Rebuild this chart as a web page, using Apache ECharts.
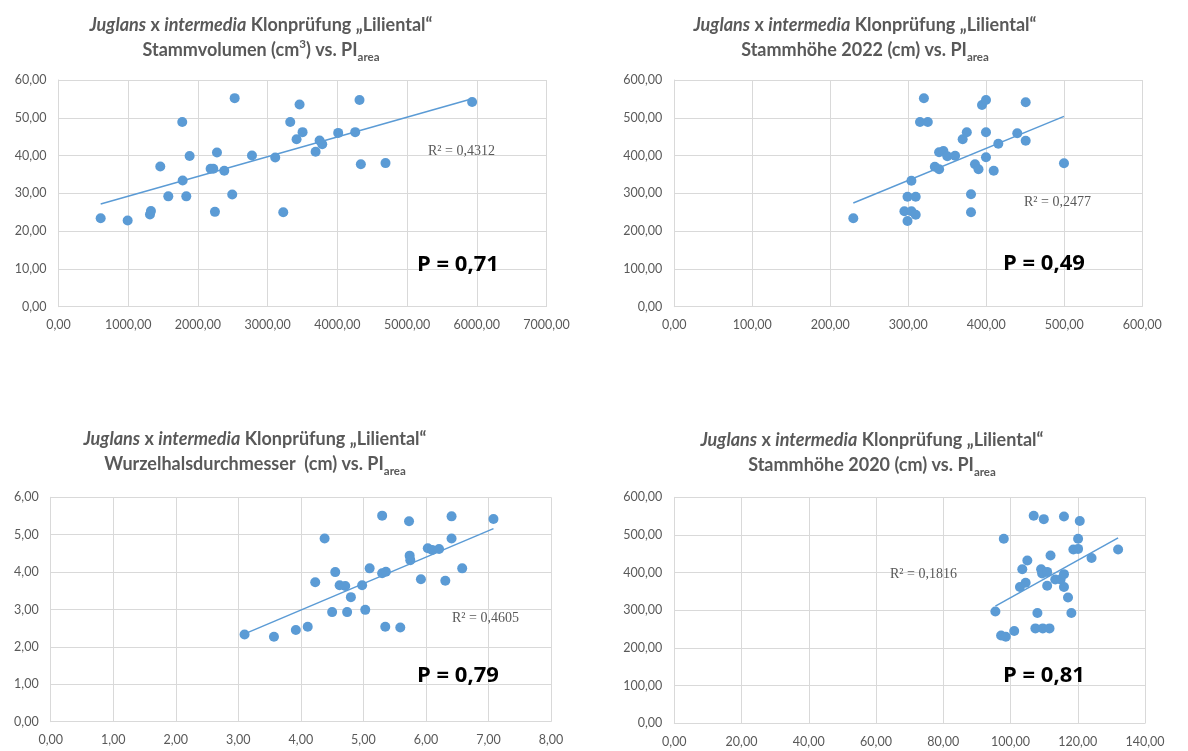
<!DOCTYPE html>
<html>
<head>
<meta charset="utf-8">
<script src="https://cdn.jsdelivr.net/npm/echarts@6/dist/echarts.min.js"></script>
<style>
  html, body { margin: 0; padding: 0; background: #fff; }
  #ec { width: 1188px; height: 751px; }
</style>
</head>
<body>
<div id="ec"></div>
<script>
// Stammvolumen (cm3) vs. PI area
var volX = [605, 992, 1312, 1326, 1460, 1575, 1775, 1781, 1833, 1881, 2182, 2220, 2244, 2273, 2378, 2492, 2527, 2775, 3109, 3224, 3324, 3415, 3458, 3501, 3688, 3745, 3783, 4012, 4256, 4318, 4337, 4691, 5933]
var volPI = [23.4, 22.8, 24.4, 25.3, 37.1, 29.2, 48.9, 33.4, 29.2, 39.9, 36.5, 36.5, 25.1, 40.8, 36.0, 29.7, 55.2, 40.0, 39.5, 25.0, 48.9, 44.3, 53.5, 46.2, 41.0, 44.0, 43.0, 46.0, 46.2, 54.7, 37.7, 38.0, 54.2]

// Stammhoehe 2022 (cm) vs. PI area
var h22X = [229.5, 295, 299, 299, 304, 304, 309.5, 309.5, 315, 320, 325, 334, 339.5, 339.5, 345, 350, 360, 369.7, 375, 380.4, 380.4, 385.5, 390, 394.5, 399.6, 399.6, 399.6, 409.5, 415.4, 439.7, 450.5, 450.5, 499.6]
var h22PI = [234, 252.5, 291, 227, 333.5, 252.5, 291, 243.5, 489, 551.6, 489, 370.6, 363.7, 408.7, 412, 398, 399.7, 443, 461.6, 297.5, 250, 377, 363.7, 534, 547, 395.4, 461.6, 360, 431.4, 459, 541, 439.4, 379.5]

// Wurzelhalsdurchmesser (cm) vs. PI area
var wurzX = [3.10, 3.57, 3.92, 4.11, 4.23, 4.38, 4.50, 4.55, 4.62, 4.71, 4.74, 4.80, 4.98, 5.03, 5.10, 5.30, 5.30, 5.36, 5.35, 5.59, 5.73, 5.74, 5.75, 5.92, 6.03, 6.10, 6.21, 6.31, 6.41, 6.41, 6.58, 7.08]
var wurzPI = [2.33, 2.27, 2.45, 2.54, 3.73, 4.90, 2.93, 4.00, 3.65, 3.63, 2.93, 3.33, 3.65, 2.99, 4.10, 5.51, 3.97, 4.01, 2.54, 2.52, 5.36, 4.44, 4.32, 3.81, 4.64, 4.59, 4.62, 3.77, 4.90, 5.49, 4.10, 5.42]

// Stammhoehe 2020 (cm) vs. PI area
var h20X = [95.5, 97.2, 98.6, 98.0, 101.1, 102.8, 103.5, 104.5, 105.0, 106.9, 107.4, 108.0, 109.1, 109.4, 109.9, 109.6, 110.9, 110.9, 111.6, 111.9, 113.3, 114.9, 115.9, 115.9, 115.9, 117.1, 118.1, 118.7, 120.1, 120.1, 120.6, 124.1, 132.0]
var h20PI = [297, 233, 230, 490, 245, 362, 409, 373, 432, 551, 252, 292.6, 409, 398, 542, 252, 402, 365, 252, 445.6, 382, 382, 549, 396, 362, 334, 292.6, 461.5, 463, 490, 537, 439, 461.5]

var rSquared = ['R² = 0,4312', 'R² = 0,2477', 'R² = 0,4605', 'R² = 0,1816']
var pValues = ['P = 0,71', 'P = 0,49', 'P = 0,79', 'P = 0,81']

var blue = '#5B9BD5'
var grey = '#595959'
var gridGrey = '#d9d9d9'

function pairs(xs, ys) {
  return xs.map(function (x, i) { return [x, ys[i]] })
}

// linear trend like Excel
function trend(xs, ys) {
  var n = xs.length, sx = 0, sy = 0, sxx = 0, sxy = 0
  for (var i = 0; i < n; i++) {
    sx += xs[i]; sy += ys[i]; sxx += xs[i] * xs[i]; sxy += xs[i] * ys[i]
  }
  var b = (n * sxy - sx * sy) / (n * sxx - sx * sx)
  var a = (sy - b * sx) / n
  var x0 = Math.min.apply(null, xs), x1 = Math.max.apply(null, xs)
  return [[x0, a + b * x0], [x1, a + b * x1]]
}

function fmt(v) {
  return v.toFixed(2).replace('.', ',')
}

function axis(idx, min, max, interval) {
  return {
    type: 'value',
    gridIndex: idx,
    min: min,
    max: max,
    interval: interval,
    axisLine: { show: true, lineStyle: { color: gridGrey, width: 1 } },
    axisTick: { show: false },
    splitLine: { show: true, lineStyle: { color: gridGrey, width: 1 } },
    axisLabel: {
      color: grey,
      fontFamily: 'Lato',
      fontSize: 12.5,
      margin: 12,
      formatter: fmt
    }
  }
}

var titleRich = {
  i: { fontStyle: 'italic', fontSize: 18, color: grey, fontFamily: 'Lato', fontWeight: 'bold', lineHeight: 25 },
  sup: { fontSize: 11.5, color: grey, fontFamily: 'Lato', fontWeight: 'bold', verticalAlign: 'top', lineHeight: 22 },
  sub: { fontSize: 11.5, color: grey, fontFamily: 'Lato', fontWeight: 'bold', verticalAlign: 'bottom', lineHeight: 20 }
}

function title(line2, cx, top) {
  return {
    text: '{i|Juglans} x {i|intermedia} Klonprüfung „Liliental“\n' + line2,
    left: cx,
    top: top,
    textAlign: 'center',
    textStyle: {
      fontFamily: 'Lato',
      fontSize: 18,
      fontWeight: 'bold',
      color: grey,
      lineHeight: 25,
      rich: titleRich
    }
  }
}

var sets = [[volX, volPI], [h22X, h22PI], [wurzX, wurzPI], [h20X, h20PI]]

var series = []
sets.forEach(function (s, i) {
  series.push({
    type: 'scatter',
    xAxisIndex: i,
    yAxisIndex: i,
    symbolSize: 10,
    itemStyle: { color: blue, opacity: 1 },
    data: pairs(s[0], s[1]),
    z: 3
  })
  series.push({
    type: 'line',
    xAxisIndex: i,
    yAxisIndex: i,
    symbol: 'none',
    lineStyle: { color: blue, width: 1.5 },
    data: trend(s[0], s[1]),
    z: 2
  })
})

var annPos = [
  { r: [428, 151], p: [417, 265] },
  { r: [1024, 202], p: [1003, 264] },
  { r: [452, 618], p: [417, 676] },
  { r: [890, 574], p: [1003, 676] }
]
var graphic = []
annPos.forEach(function (a, i) {
  graphic.push({
    type: 'text', x: a.r[0], y: a.r[1], z: 100,
    style: { text: rSquared[i], fill: grey, font: '14px "Liberation Serif"', textAlign: 'left', verticalAlign: 'middle' }
  })
  graphic.push({
    type: 'text', x: a.p[0], y: a.p[1], z: 100,
    style: { text: pValues[i], fill: '#000', font: 'bold 22px "Open Sans"', textAlign: 'left', verticalAlign: 'middle' }
  })
})

var chart = echarts.init(document.getElementById('ec'))
chart.setOption({
  animation: false,
  title: [
    title('Stammvolumen (cm{sup|3}) vs. PI{sub|area}', 256, 8),
    title('Stammhöhe 2022 (cm) vs. PI{sub|area}', 860, 8),
    title('Wurzelhalsdurchmesser  (cm) vs. PI{sub|area}', 250, 422),
    title('Stammhöhe 2020 (cm) vs. PI{sub|area}', 867, 423)
  ],
  grid: [
    { left: 58.5, top: 80, width: 488, height: 226.7 },
    { left: 674.3, top: 80, width: 468, height: 226.7 },
    { left: 50.7, top: 497.3, width: 500.3, height: 224.4 },
    { left: 674.3, top: 497.3, width: 470.7, height: 226 }
  ],
  xAxis: [
    axis(0, 0, 7000, 1000),
    axis(1, 0, 600, 100),
    axis(2, 0, 8, 1),
    axis(3, 0, 140, 20)
  ],
  yAxis: [
    axis(0, 0, 60, 10),
    axis(1, 0, 600, 100),
    axis(2, 0, 6, 1),
    axis(3, 0, 600, 100)
  ],
  series: series,
  graphic: graphic
})
</script>
</body>
</html>
